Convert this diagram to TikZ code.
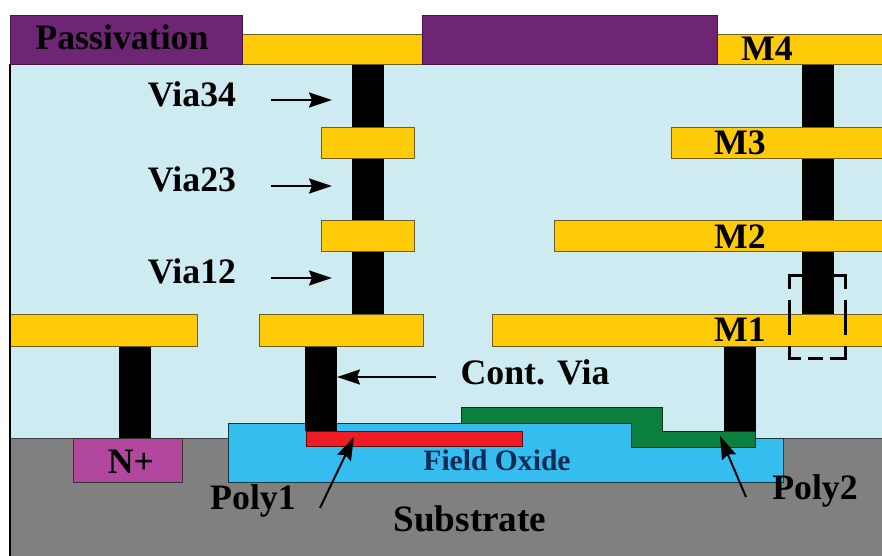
\documentclass[tikz,border=0pt]{standalone}
\usepackage{fontspec}
\setmainfont{Liberation Serif}
\usepackage{xcolor}
\usetikzlibrary{arrows.meta,positioning,calc}

\definecolor{ildblue}{HTML}{CFEBF2}
\definecolor{metalyel}{HTML}{FFCB08}
\definecolor{metaledge}{HTML}{6E5F1E}
\definecolor{passpurple}{HTML}{6E2674}
\definecolor{subgray}{HTML}{808080}
\definecolor{oxideblue}{HTML}{35BDF0}
\definecolor{oxidetext}{HTML}{0B2A55}
\definecolor{nplus}{HTML}{B2479E}
\definecolor{polygreen}{HTML}{0B7F3D}
\definecolor{polyred}{HTML}{EE1C25}

\begin{document}
\begin{tikzpicture}[
  x=1pt, y=-1pt,
  >={Stealth[length=23pt,width=15pt,inset=3pt]},
  layerbox/.style={
    rectangle, anchor=north west, inner sep=0pt, outer sep=0pt, line width=1pt},
  metal/.style={layerbox, draw=metaledge, fill=metalyel},
  passbox/.style={layerbox, draw=passpurple!60!black, fill=passpurple},
  via/.style={layerbox, fill=black, minimum width=32pt},
  ptr/.style={->, line width=2pt, draw=black},
  lbl/.style={inner sep=0pt, text=black, font=\fontsize{35.8}{38}\selectfont\bfseries},
  dashedge/.style={line width=3pt, draw=black, line cap=rect},
]
\clip (0,0) rectangle (882,555);
\fill[white] (0,0) rectangle (882,555);

% ---- Background layers ----
\node[layerbox, fill=ildblue, minimum width=880pt, minimum height=374pt] (ild) at (10,64) {};
\node[layerbox, draw=black!75, fill=subgray, minimum width=880pt, minimum height=125pt] (substrate) at (10,438) {};
\node[layerbox, draw=black!80, fill=nplus, minimum width=109pt, minimum height=44pt] (nplus) at (73,438) {};

% ---- Field oxide and poly ----
\draw[line width=1pt, draw=black!70!oxideblue, fill=oxideblue]
  (228,423) -- (640,423) -- (640,438) -- (783,438) -- (783,482) -- (228,482) -- cycle;
\draw[line width=1pt, draw=black!60!polygreen, fill=polygreen]
  (461,407) -- (662,407) -- (662,431) -- (755,431) -- (755,447) -- (631,447) -- (631,423) -- (461,423) -- cycle;
\node[layerbox, draw=black!60!polyred, fill=polyred, minimum width=216pt, minimum height=15pt] (poly1) at (306,431) {};

% ---- Vias ----
\node[via, minimum height=63pt] (via34) at (352,64) {};
\node[via, minimum height=62pt] (via23) at (352,158) {};
\node[via, minimum height=63pt] (via12) at (352,251) {};
\node[via, minimum height=250pt] (viar) at (802,64) {};
\node[via, minimum height=92pt] (vian) at (119,346) {};
\node[via, minimum height=85pt] (viacont) at (305,346) {};
\node[via, minimum height=85pt] (viap2) at (724,346) {};

% ---- Metal layers ----
\node[metal, minimum width=180pt, minimum height=30pt] (m4a) at (242,34) {};
\node[metal, minimum width=180pt, minimum height=30pt] (m4b) at (717,34) {};
\node[metal, minimum width=93pt, minimum height=31pt] (m3a) at (321,127) {};
\node[metal, minimum width=225pt, minimum height=31pt] (m3b) at (671,127) {};
\node[metal, minimum width=93pt, minimum height=31pt] (m2a) at (321,220) {};
\node[metal, minimum width=342pt, minimum height=31pt] (m2b) at (554,220) {};
\node[metal, minimum width=187pt, minimum height=32pt] (m1a) at (10,314) {};
\node[metal, minimum width=164pt, minimum height=32pt] (m1b) at (259,314) {};
\node[metal, minimum width=404pt, minimum height=32pt] (m1c) at (492,314) {};

% ---- Passivation ----
\node[passbox, minimum width=232pt, minimum height=49pt] (passa) at (10,15) {};
\node[passbox, minimum width=295pt, minimum height=49pt] (passb) at (422,15) {};
\draw[line width=1.2pt, draw=black] (ild.north west) -- (substrate.south west);

% ---- Labels ----
\node[lbl] (lblpass) at (122,37) {Passivation};
\node[lbl] (lblm4) at (767,49) {M4};
\node[lbl] (lblm3) at (740,143) {M3};
\node[lbl] (lblm2) at (740,237) {M2};
\node[lbl] (lblm1) at (740,330) {M1};
\node[lbl] (lblvia34) at (192,94) {Via34};
\node[lbl] (lblvia23) at (192,179) {Via23};
\node[lbl] (lblvia12) at (192,271) {Via12};
\node[lbl] (lblcont) at (535,372) {Cont. Via};
\node[lbl] (lblnplus) at (131,462) {N+};
\node[lbl, font=\fontsize{29.6}{32}\selectfont\bfseries, text=oxidetext] (lbloxide) at (497,460) {Field Oxide};
\node[lbl, font=\fontsize{37.2}{40}\selectfont\bfseries] (lblsub) at (470,519) {Substrate};
\node[lbl] (lblpoly1) at (253,501) {Poly1};
\node[lbl] (lblpoly2) at (815,491) {Poly2};

% ---- Pointers ----
\coordinate[right=35pt of lblvia34.east, yshift=-6pt] (tail34);
\coordinate[right=35pt of lblvia23.east, yshift=-7pt] (tail23);
\coordinate[right=35pt of lblvia12.east, yshift=-7pt] (tail12);
\coordinate[left=24pt of lblcont.west, yshift=-5pt] (tailcont);
\coordinate (tailp1) at (320,508);
\coordinate (tipp1) at (354,437);
\coordinate (tailp2) at (746,497);
\coordinate (tipp2) at (720,436);
\draw[ptr, shorten >=20pt] (tail34) -- (tail34 -| via34.west);
\draw[ptr, shorten >=20pt] (tail23) -- (tail23 -| via23.west);
\draw[ptr, shorten >=20pt] (tail12) -- (tail12 -| via12.west);
\draw[ptr] (tailcont) -- (tailcont -| viacont.east);
\draw[ptr] (tailp1) -- (tipp1);
\draw[ptr] (tailp2) -- (tipp2);

% ---- Detail box ----
\node[layerbox, minimum width=56pt, minimum height=83pt] (detail) at (789,275) {};
\draw[dashedge, dash pattern=on 12pt off 14pt on 32pt off 14pt on 12pt] (detail.north west) -- (detail.south west);
\draw[dashedge, dash pattern=on 12pt off 14pt on 32pt off 14pt on 12pt] (detail.north east) -- (detail.south east);
\draw[dashedge, dash pattern=on 10pt off 10pt on 12pt off 10pt on 14pt] (detail.south west) -- (detail.south east);
\draw[dashedge, dash pattern=on 11pt off 34pt on 11pt] (detail.north west) -- (detail.north east);

\end{tikzpicture}
\end{document}
